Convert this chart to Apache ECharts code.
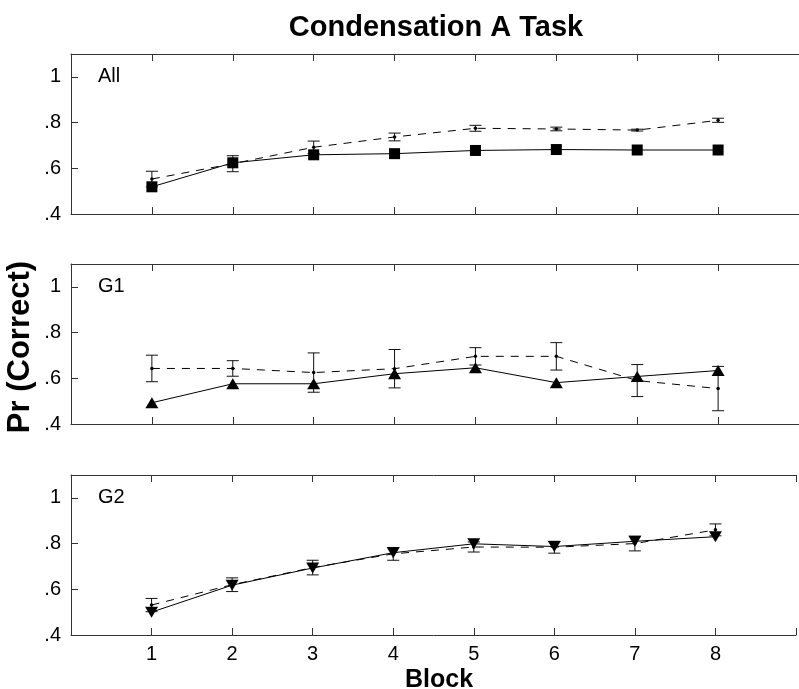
<!DOCTYPE html>
<html>
<head>
<meta charset="utf-8">
<script src="https://cdn.jsdelivr.net/npm/echarts@6/dist/echarts.min.js"></script>
<style>
  html, body { margin: 0; padding: 0; background: #fff; }
  #chart { width: 799px; height: 689px; }
</style>
</head>
<body>
<div id="chart"></div>
<script>
// blocks on the x axis
var blocks = [1, 2, 3, 4, 5, 6, 7, 8]
var yTickLabels = { '0.4': '.4', '0.6': '.6', '0.8': '.8', '1': '1' }

// panel names
var panelNames = ['All', 'G1', 'G2']

// solid line with filled markers
var allSolid = [0.519, 0.624, 0.659, 0.664, 0.678, 0.682, 0.680, 0.680]
var g1Solid = [0.493, 0.576, 0.576, 0.620, 0.646, 0.581, 0.608, 0.634]
var g2Solid = [0.500, 0.618, 0.693, 0.760, 0.799, 0.787, 0.810, 0.830]

// dashed line (means) and half-widths of the error bars
var allDashed = [0.553, 0.620, 0.692, 0.737, 0.775, 0.772, 0.767, 0.810]
var allErr = [0.034, 0.035, 0.027, 0.017, 0.013, 0.008, 0.004, 0.009]
var g1Dashed = [0.643, 0.643, 0.625, 0.642, 0.696, 0.696, 0.590, 0.555]
var g1Err = [0.058, 0.034, 0.086, 0.084, 0.038, 0.060, 0.070, 0.097]
var g2Dashed = [0.531, 0.620, 0.695, 0.755, 0.785, 0.784, 0.800, 0.860]
var g2Err = [0.029, 0.030, 0.032, 0.028, 0.022, 0.026, 0.032, 0.026]

var panelTops = [54, 264, 475]
var solidSets = [allSolid, g1Solid, g2Solid]
var dashedSets = [allDashed, g1Dashed, g2Dashed]
var errSets = [allErr, g1Err, g2Err]
var markers = [
  { symbol: 'rect', size: 11, rotate: 0 },
  { symbol: 'triangle', size: [13, 11], rotate: 0 },
  { symbol: 'triangle', size: [13, 11], rotate: 180 }
]

var axisColor = '#333'
var fontFam = '"Liberation Sans", Arial, Helvetica, sans-serif'

var chart = echarts.init(document.getElementById('chart'), null, { renderer: 'canvas' })

var grids = [], xAxes = [], yAxes = [], series = [], graphics = []

panelTops.forEach(function(top, i) {
  grids.push({ left: 71, width: 736, top: top, height: 160 })

  // bottom axis
  xAxes.push({
    type: 'value', gridIndex: i, position: 'bottom',
    min: 0, max: 9, interval: 1,
    axisLine: { show: true, onZero: false, lineStyle: { color: axisColor, width: 1 } },
    axisTick: { show: true, inside: true, length: 7, lineStyle: { color: axisColor } },
    axisLabel: {
      show: i === 2, margin: 9, color: '#000', fontSize: 20, fontFamily: fontFam,
      formatter: function(v) { return blocks.indexOf(v) >= 0 ? String(v) : '' }
    },
    splitLine: { show: false }
  })
  // top mirror axis
  xAxes.push({
    type: 'value', gridIndex: i, position: 'top',
    min: 0, max: 9, interval: 1,
    axisLine: { show: true, onZero: false, lineStyle: { color: axisColor, width: 1 } },
    axisTick: { show: true, inside: true, length: 7, lineStyle: { color: axisColor } },
    axisLabel: { show: false },
    splitLine: { show: false }
  })
  yAxes.push({
    type: 'value', gridIndex: i,
    min: 0.4, max: 1.1, interval: 0.2,
    axisLine: { show: true, onZero: false, lineStyle: { color: axisColor, width: 1 } },
    axisTick: { show: true, inside: true, length: 7, lineStyle: { color: axisColor } },
    axisLabel: {
      margin: 10, color: '#000', fontSize: 20, fontFamily: fontFam,
      formatter: function(v) { return yTickLabels[String(Math.round(v * 10) / 10)] || '' }
    },
    splitLine: { show: false }
  })

  var xi = i * 2
  var dashed = dashedSets[i], err = errSets[i], solid = solidSets[i]

  // dashed mean line
  series.push({
    type: 'line', xAxisIndex: xi, yAxisIndex: i,
    data: blocks.map(function(b, k) { return [b, dashed[k]] }),
    symbol: 'circle', symbolSize: 3.5, showSymbol: true,
    lineStyle: { color: '#000', width: 1, type: [8, 7] },
    itemStyle: { color: '#000' },
    animation: false, z: 2
  })
  // error bars
  series.push({
    type: 'custom', xAxisIndex: xi, yAxisIndex: i,
    data: blocks.map(function(b, k) { return [b, dashed[k] - err[k], dashed[k] + err[k]] }),
    encode: { x: 0, y: [1, 2] },
    renderItem: function(params, api) {
      var lo = api.coord([api.value(0), api.value(1)])
      var hi = api.coord([api.value(0), api.value(2)])
      var hw = 6
      var st = { stroke: '#111', lineWidth: 1 }
      return {
        type: 'group',
        children: [
          { type: 'line', shape: { x1: lo[0], y1: lo[1], x2: hi[0], y2: hi[1] }, style: st },
          { type: 'line', shape: { x1: lo[0] - hw, y1: lo[1], x2: lo[0] + hw, y2: lo[1] }, style: st },
          { type: 'line', shape: { x1: hi[0] - hw, y1: hi[1], x2: hi[0] + hw, y2: hi[1] }, style: st }
        ]
      }
    },
    animation: false, z: 2
  })
  // solid line with markers
  series.push({
    type: 'line', xAxisIndex: xi, yAxisIndex: i,
    data: blocks.map(function(b, k) { return [b, solid[k]] }),
    symbol: markers[i].symbol, symbolSize: markers[i].size, symbolRotate: markers[i].rotate,
    showSymbol: true,
    lineStyle: { color: '#000', width: 1 },
    itemStyle: { color: '#000', borderWidth: 0 },
    animation: false, z: 3
  })

  graphics.push({
    type: 'text', left: 98, top: top + 12,
    style: { text: panelNames[i], fontSize: 20, fontFamily: fontFam, fill: '#000' }
  })
})

graphics.push({
  type: 'text', x: 20, y: 347, rotation: Math.PI / 2,
  style: {
    text: 'Pr (Correct)', fontSize: 31, fontWeight: 'bold', fontFamily: fontFam, fill: '#000',
    textAlign: 'center', textVerticalAlign: 'middle'
  }
})
graphics.push({
  type: 'text', x: 439, y: 680,
  style: {
    text: 'Block', fontSize: 25, fontWeight: 'bold', fontFamily: fontFam, fill: '#000',
    textAlign: 'center', textVerticalAlign: 'middle'
  }
})

chart.setOption({
  backgroundColor: '#fff',
  animation: false,
  title: {
    text: 'Condensation A Task', left: 431, top: 8, textAlign: 'center',
    textStyle: { fontSize: 29, fontWeight: 'bold', fontFamily: fontFam, color: '#000' }
  },
  grid: grids,
  xAxis: xAxes,
  yAxis: yAxes,
  series: series,
  graphic: graphics
})
</script>
</body>
</html>
